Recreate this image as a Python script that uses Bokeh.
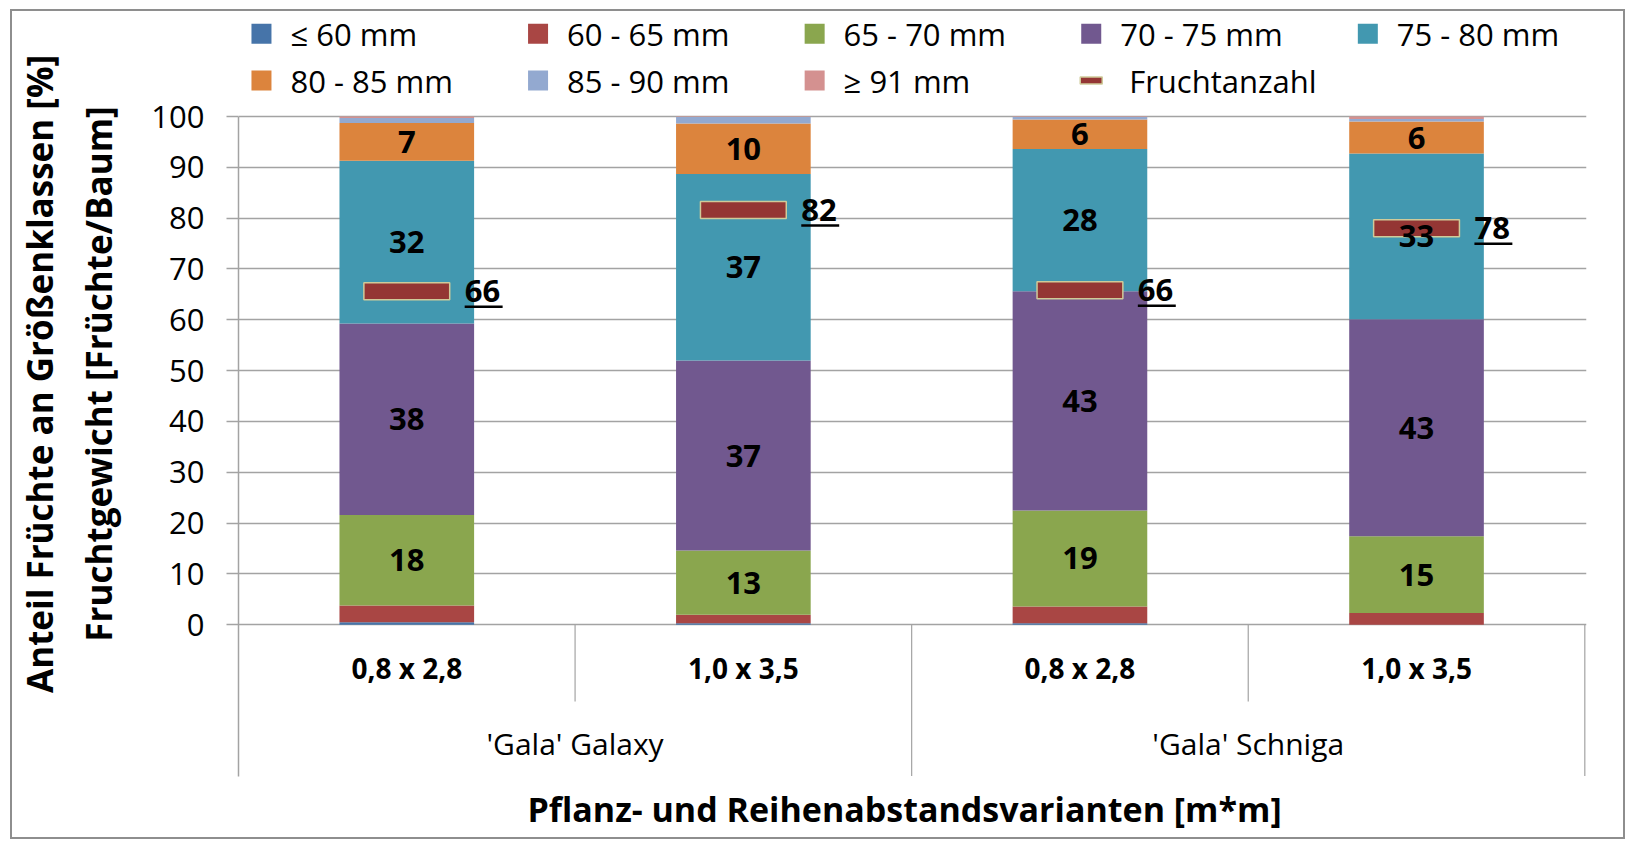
import numpy as np
from bokeh.plotting import figure
from bokeh.models import Range1d, FixedTicker, LinearAxis, ColumnDataSource
from bokeh.core.properties import value
from bokeh.embed import file_html
from bokeh.resources import INLINE

# ---------------- data ----------------
classes = ["≤ 60 mm", "60 - 65 mm", "65 - 70 mm", "70 - 75 mm",
           "75 - 80 mm", "80 - 85 mm", "85 - 90 mm", "≥ 91 mm"]
colors = ["#4674A9", "#A94644", "#8AA64E", "#71588F",
          "#4298B0", "#DC843D", "#93A9D0", "#D49190"]
spacings = ["0,8 x 2,8", "1,0 x 3,5", "0,8 x 2,8", "1,0 x 3,5"]
varieties = ["'Gala' Galaxy", "'Gala' Schniga"]
s_le60 = [0.5, 0.3, 0.3, 0.0]
s_60_65 = [3.3, 1.7, 3.3, 2.3]
s_65_70 = [17.8, 12.6, 18.9, 15.1]
s_70_75 = [37.7, 37.4, 43.1, 42.7]
s_75_80 = [32.0, 36.7, 28.0, 32.6]
s_80_85 = [7.4, 9.9, 5.8, 6.3]
s_85_90 = [1.0, 1.3, 0.5, 0.5]
s_ge91 = [0.3, 0.1, 0.1, 0.5]
fruchtanzahl = [65.6, 81.6, 65.8, 78.0]
count_label = ["66", "82", "66", "78"]
labelled_classes = [2, 3, 4, 5]
y_ticks = [0, 10, 20, 30, 40, 50, 60, 70, 80, 90, 100]
legend_series = classes + ["Fruchtanzahl"]
marker_fill = "#943634"
marker_line = "#CFCB9A"
y_title_1 = "Anteil Früchte an Größenklassen [%]"
y_title_2 = "Fruchtgewicht [Früchte/Baum]"
x_title = "Pflanz- und Reihenabstandsvarianten [m*m]"

series = [s_le60, s_60_65, s_65_70, s_70_75, s_75_80, s_80_85, s_85_90, s_ge91]

# ---------------- layout ----------------
W, H = 1615, 830
FL, FR = 224, 41
x_end = 4.005
ppx = (W - FL - FR) / x_end          # px per category unit
ppy = 5.083                           # px per percent
y0_px = 613.3                         # canvas px of y = 0
y_end = 100 + (y0_px - 100 * ppy) / ppy
y_start = -(H - y0_px) / ppy
box_bottom = -(764.5 - y0_px) / ppy
FONT = value("Open Sans")
GRID = "#A3A3A3"

p = figure(width=W, height=H, x_range=Range1d(0, x_end), y_range=Range1d(y_start, y_end),
           output_backend="svg", toolbar_location=None, x_axis_location=None,
           min_border_left=FL, min_border_right=FR, min_border_top=0, min_border_bottom=0,
           title=None)
p.outline_line_color = None
p.background_fill_color = "white"
p.border_fill_color = "white"
p.styles = {"margin": "9px 0px 0px 10px", "border": "2px solid #8E8E8E"}

ya = p.yaxis[0]
ya.ticker = FixedTicker(ticks=y_ticks)
ya.bounds = (box_bottom, 100)
ya.axis_line_color = GRID
ya.axis_line_width = 1.5
ya.major_tick_line_color = GRID
ya.major_tick_line_width = 1.5
ya.major_tick_out = 12
ya.major_tick_in = 0
ya.minor_tick_line_color = None
ya.major_label_standoff = 22
ya.major_label_text_font = "Open Sans"
ya.major_label_text_font_size = "31px"
ya.major_label_text_color = "black"
p.ygrid.grid_line_color = GRID
p.ygrid.grid_line_width = 1.3
p.xgrid.grid_line_color = None

# two-line y title: two label-only axes stacked on the left
# (leading em spaces centre the titles on the 0-100 part of the axis)
pad = "\u2003" * 3
for txt, standoff in [(y_title_2, 27), (y_title_1, 9)]:
    ax = LinearAxis(ticker=FixedTicker(ticks=[]), bounds=(0, 100), axis_label=pad + txt,
                    axis_line_color=None, major_tick_line_color=None, minor_tick_line_color=None,
                    major_tick_out=0, major_tick_in=0, major_label_standoff=0,
                    axis_label_standoff=standoff, axis_label_text_font="Open Sans",
                    axis_label_text_font_size="35px", axis_label_text_font_style="bold",
                    axis_label_text_color="black")
    p.add_layout(ax, "left")

# ---------------- bars ----------------
xs = [i + 0.5 for i in range(len(spacings))]
keys = [f"k{i}" for i in range(len(classes))]
data = {"x": xs}
for k, s in zip(keys, series):
    data[k] = s
src = ColumnDataSource(data)
p.vbar_stack(keys, x="x", width=0.4, color=colors, line_color=None, source=src)

# Fruchtanzahl markers (dash)
mw = 0.255
p.rect(x=xs, y=fruchtanzahl, width=mw, height=17, height_units="screen",
       fill_color=marker_fill, line_color=marker_line, line_width=1.5)

# segment data labels
lx, ly, lt = [], [], []
cum = np.zeros(len(xs))
for ci, s in enumerate(series):
    s = np.array(s)
    if ci in labelled_classes:
        for j in range(len(xs)):
            lx.append(xs[j]); ly.append(cum[j] + s[j] / 2); lt.append(f"{round(s[j]):d}")
    cum = cum + s
p.text(x=lx, y=ly, text=lt, text_font=FONT, text_font_size="31px", text_font_style="bold",
       text_align="center", text_baseline="middle", text_color="black")

# Fruchtanzahl labels, underlined
cx = [x + mw / 2 + 15 / ppx for x in xs]
p.text(x=cx, y=fruchtanzahl, text=count_label, text_font=FONT, text_font_size="31px",
       text_font_style="bold", text_align="left", text_baseline="middle", text_color="black")
ul_y = [v - 15.5 / ppy for v in fruchtanzahl]
ul_x1 = [x + len(t) * 19 / ppx for x, t in zip(cx, count_label)]
p.segment(x0=cx, y0=ul_y, x1=ul_x1, y1=ul_y, line_color="black", line_width=2.5)

# ---------------- category axis (two levels) ----------------
n = len(spacings)
inner = [i for i in range(1, n) if i % 2 == 1]
outer = [i for i in range(2, n + 1, 2)]
p.segment(x0=inner, y0=0, x1=inner, y1=-15.1, line_color=GRID, line_width=1.2)
p.segment(x0=outer, y0=0, x1=outer, y1=box_bottom, line_color=GRID, line_width=1.2)
p.text(x=xs, y=-(667.0 - 624.3) / ppy, text=spacings, text_font=FONT, text_font_size="28px",
       text_font_style="bold", text_align="center", text_baseline="middle", text_color="black")
gx = [2 * i + 1 for i in range(len(varieties))]
p.text(x=gx, y=-(742.5 - 624.3) / ppy, text=varieties, text_font=FONT, text_font_size="30px",
       text_align="center", text_baseline="middle", text_color="black")
p.text(x=[(903 - 236) / ppx], y=[-(808.3 - 624.3) / ppy], text=[x_title], text_font=FONT,
       text_font_size="34px", text_font_style="bold", text_align="center",
       text_baseline="middle", text_color="black")

# ---------------- legend ----------------
col_step = 277 / ppx
leg_x, leg_y = [], []
for i in range(len(legend_series)):
    r, c = divmod(i, 5)
    leg_x.append((259 - 236) / ppx + c * col_step)
    leg_y.append(100 + (116 - (33.3 if r == 0 else 80.0)) / ppy)
nc = len(classes)
text_dx = [29 / ppx] * nc + [38 / ppx]
p.rect(x=leg_x[:nc], y=leg_y[:nc], width=20, height=20, width_units="screen",
       height_units="screen", fill_color=colors, line_color=None)
p.rect(x=leg_x[nc:], y=leg_y[nc:], width=22, height=7, width_units="screen",
       height_units="screen", fill_color=marker_fill, line_color=marker_line, line_width=1.5)
p.text(x=[x + d for x, d in zip(leg_x, text_dx)], y=leg_y, text=legend_series, text_font=FONT,
       text_font_size="31px", text_align="left", text_baseline="middle", text_color="black")

open("out.html", "w").write(file_html(p, INLINE))
